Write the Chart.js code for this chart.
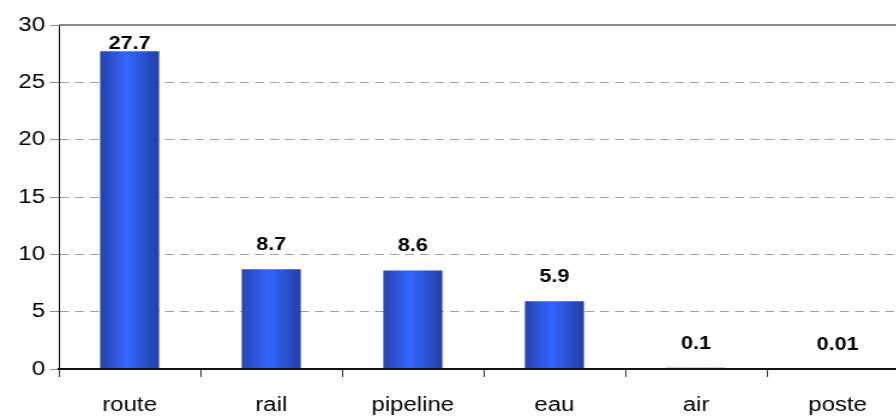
<!DOCTYPE html>
<html>
<head>
<meta charset="utf-8">
<script src="https://cdn.jsdelivr.net/npm/chart.js@4.4.1/dist/chart.umd.min.js"></script>
<style>
  html, body { margin: 0; padding: 0; background: #fff; overflow: hidden; width: 896px; height: 416px; }
  #wrap { width: 760px; height: 416px; transform: scaleX(1.2); transform-origin: 0 0; }
</style>
</head>
<body>
<div id="wrap"><canvas id="chart" width="760" height="416"></canvas></div>
<script>
let categories = ['route', 'rail', 'pipeline', 'eau', 'air', 'poste'];
let values = [27.7, 8.7, 8.6, 5.9, 0.1, 0.01];
let valueLabels = ['27.7', '8.7', '8.6', '5.9', '0.1', '0.01'];
let yTicks = [0, 5, 10, 15, 20, 25, 30];

const barPct = 0.417;

function barGradient(ctx) {
    let chart = ctx.chart;
    let x = chart.scales.x;
    if (!x || !chart.chartArea) return '#3366ff';
    let c = x.getPixelForValue(ctx.dataIndex);
    let half = x.width / categories.length * barPct / 2;
    let g = chart.ctx.createLinearGradient(c - half, 0, c + half, 0);
    g.addColorStop(0, '#2644b0');
    g.addColorStop(0.45, '#3366ff');
    g.addColorStop(1, '#2240a6');
    return g;
}

// solid line on top of plot + bold value labels above bars
let extras = {
    id: 'extras',
    afterDatasetsDraw(chart) {
        let ctx = chart.ctx;
        let area = chart.chartArea;
        let y = chart.scales.y;
        ctx.save();
        ctx.strokeStyle = '#8a8a8a';
        ctx.lineWidth = 2;
        ctx.beginPath();
        ctx.moveTo(area.left, y.getPixelForValue(30));
        ctx.lineTo(area.right, y.getPixelForValue(30));
        ctx.stroke();

        ctx.fillStyle = '#000';
        ctx.font = 'bold 18px "Liberation Sans", Arial, sans-serif';
        ctx.textAlign = 'center';
        ctx.textBaseline = 'alphabetic';
        chart.getDatasetMeta(0).data.forEach((bar, i) => {
            let ty = Math.max(bar.y - 19, area.top + 24);
            ctx.fillText(valueLabels[i], bar.x, ty);
        });
        ctx.restore();
    }
};

new Chart(document.querySelector('#chart'), {
    type: 'bar',
    data: {
        labels: categories,
        datasets: [{
            data: values,
            backgroundColor: barGradient,
            borderWidth: 0,
            barPercentage: barPct,
            categoryPercentage: 1
        }]
    },
    options: {
        responsive: false,
        animation: false,
        devicePixelRatio: 1,
        layout: { padding: { top: 25, right: 3, left: 0, bottom: 0 } },
        plugins: { legend: { display: false }, tooltip: { enabled: false } },
        scales: {
            x: {
                offset: true,
                afterFit(scale) { scale.height = 47; },
                grid: { offset: true, drawOnChartArea: false, tickLength: 8, color: '#333', lineWidth: 1 },
                border: { color: '#111', width: 2, z: 1 },
                ticks: {
                    color: '#000', padding: 16, maxRotation: 0,
                    font: { family: '"Liberation Sans", Arial, sans-serif', size: 20 }
                }
            },
            y: {
                min: 0,
                max: 30,
                afterFit(scale) { scale.width = 49; },
                afterBuildTicks(scale) { scale.ticks = yTicks.map(v => ({ value: v })); },
                grid: {
                    color: c => (c.tick && c.tick.value === 0) ? 'rgba(0,0,0,0)' : '#a0a0a0',
                    tickColor: '#8a8a8a',
                    tickLength: 7.5,
                    tickBorderDash: [],
                    lineWidth: 1
                },
                border: { color: '#000', width: 1, dash: [7.5, 5] },
                ticks: {
                    color: '#000', padding: 4,
                    font: { family: '"Liberation Sans", Arial, sans-serif', size: 20 }
                }
            }
        }
    },
    plugins: [extras]
});
</script>
</body>
</html>
